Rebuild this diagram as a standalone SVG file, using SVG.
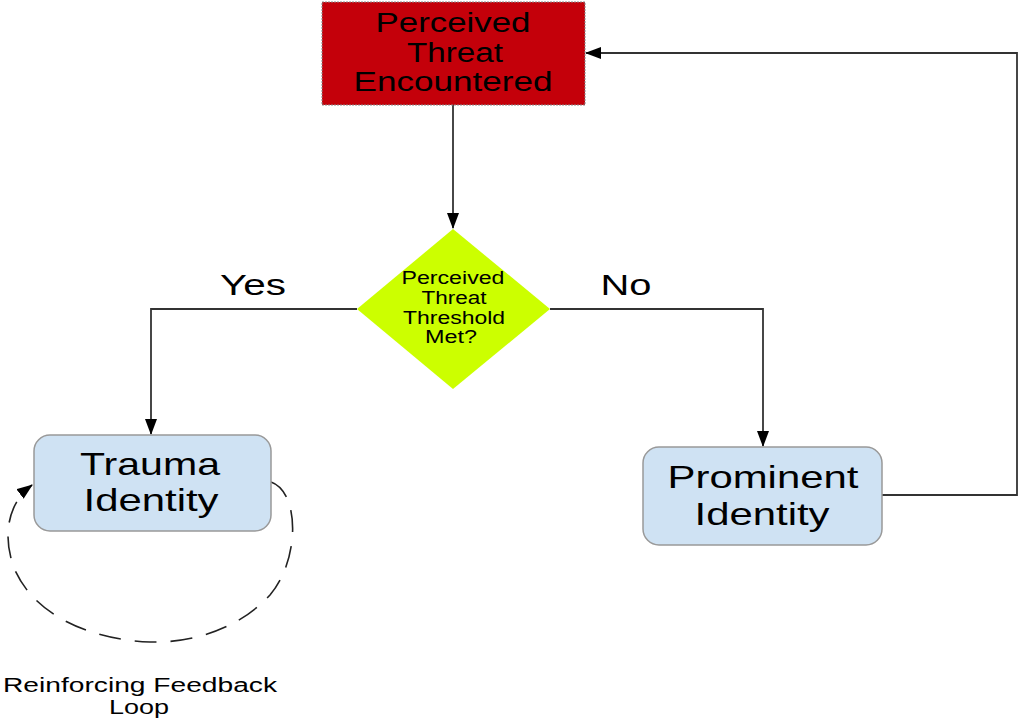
<svg xmlns="http://www.w3.org/2000/svg" width="1021" height="721" viewBox="0 0 1021 721">
  <style>
    text { font-family: "Liberation Sans", Arial, sans-serif; fill: #000; text-anchor: middle; }
    .conn { fill: none; stroke: #333; stroke-width: 1.8; }
    .loop { fill: none; stroke: #222; stroke-width: 1.6; stroke-dasharray: 22 14; }
    .ident { fill: #cfe2f3; stroke: #999; stroke-width: 1.5; }
    .big { font-size: 32px; }
    .lbl { font-size: 29px; }
  </style>
  <defs>
    <marker id="arrow" viewBox="0 0 16 12" refX="15" refY="6" markerWidth="16" markerHeight="12" markerUnits="userSpaceOnUse" orient="auto">
      <path d="M0,0 L16,6 L0,12 Z" fill="#000"/>
    </marker>
  </defs>

  <!-- connectors -->
  <g id="connectors">
    <path class="conn" d="M453,105 L453,228" marker-end="url(#arrow)"/>
    <path class="conn" d="M357,309 L151,309 L151,434" marker-end="url(#arrow)"/>
    <path class="conn" d="M550,309 L763,309 L763,446" marker-end="url(#arrow)"/>
    <path class="conn" d="M882,495 L1017,495 L1017,53 L586,53" marker-end="url(#arrow)"/>
    <path class="loop" d="M271,482 C300,492 300,560 270,595 C235,633 185,643 150,642 C95,640 35,618 14,568 C2,535 8,503 32,485" marker-end="url(#arrow)"/>
    <text class="lbl" x="253" y="295" textLength="66" lengthAdjust="spacingAndGlyphs">Yes</text>
    <text class="lbl" x="626" y="295" textLength="51" lengthAdjust="spacingAndGlyphs">No</text>
  </g>

  <!-- threat node -->
  <g id="threat">
    <rect x="322" y="2" width="263" height="103" fill="#c4000a" stroke="#888" stroke-width="1" stroke-dasharray="2 1"/>
    <text x="453" y="32" font-size="27" textLength="155" lengthAdjust="spacingAndGlyphs">Perceived</text>
    <text x="455" y="62" font-size="27" textLength="96" lengthAdjust="spacingAndGlyphs">Threat</text>
    <text x="453" y="91" font-size="27" textLength="199" lengthAdjust="spacingAndGlyphs">Encountered</text>
  </g>

  <!-- decision node -->
  <g id="threshold">
    <polygon points="453,229 550,309 453,389 357,309" fill="#ccff00"/>
    <text x="453" y="284" font-size="17.5" textLength="103" lengthAdjust="spacingAndGlyphs">Perceived</text>
    <text x="454" y="304" font-size="17.5" textLength="65" lengthAdjust="spacingAndGlyphs">Threat</text>
    <text x="454" y="324" font-size="17.5" textLength="102" lengthAdjust="spacingAndGlyphs">Threshold</text>
    <text x="451" y="343" font-size="17.5" textLength="52" lengthAdjust="spacingAndGlyphs">Met?</text>
  </g>

  <!-- trauma identity node -->
  <g id="trauma">
    <rect class="ident" x="34" y="435" width="237" height="96" rx="16"/>
    <text class="big" x="150" y="475" textLength="140" lengthAdjust="spacingAndGlyphs">Trauma</text>
    <text class="big" x="151" y="511" textLength="135" lengthAdjust="spacingAndGlyphs">Identity</text>
  </g>

  <!-- prominent identity node -->
  <g id="prominent">
    <rect class="ident" x="643" y="447" width="239" height="98" rx="16"/>
    <text class="big" x="763" y="488" textLength="191" lengthAdjust="spacingAndGlyphs">Prominent</text>
    <text class="big" x="762" y="525" textLength="135" lengthAdjust="spacingAndGlyphs">Identity</text>
  </g>

  <!-- loop caption -->
  <g id="loop-label">
    <text x="140" y="692" font-size="20" fill="#1a1a1a" textLength="274" lengthAdjust="spacingAndGlyphs">Reinforcing Feedback</text>
    <text x="139" y="714" font-size="20" fill="#1a1a1a" textLength="60" lengthAdjust="spacingAndGlyphs">Loop</text>
  </g>
</svg>
